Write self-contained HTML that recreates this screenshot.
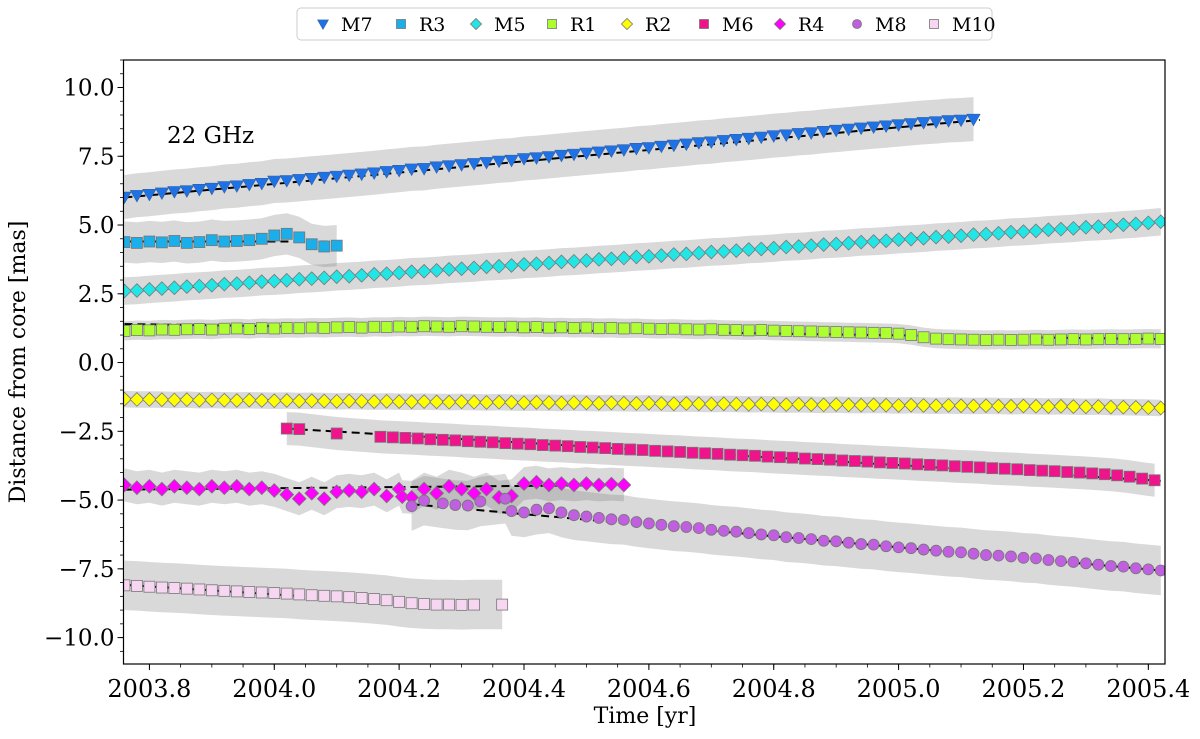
<!DOCTYPE html>
<html><head><meta charset="utf-8"><style>
html,body{margin:0;padding:0;background:#fff;}
svg text{font-family:"DejaVu Serif","Liberation Serif",serif;fill:#000;}
</style></head><body>
<svg id="chart" width="1200" height="734" viewBox="0 0 1200 734" xmlns="http://www.w3.org/2000/svg">
<defs><clipPath id="plotclip"><rect x="123.5" y="60" width="1041.5" height="604"/></clipPath></defs>
<g clip-path="url(#plotclip)">
<g id="bands"></g>
<g id="fits"></g>
<g id="marks"></g>
</g>
<g id="axes"></g>
<text x="167" y="143" font-size="23">22 GHz</text>
<text x="645" y="723" font-size="22" text-anchor="middle">Time [yr]</text>
<text x="0" y="0" font-size="22" text-anchor="middle" transform="translate(25,362) rotate(-90)">Distance from core [mas]</text>
<g id="legend"></g>
</svg>
<script>
// ---- data ----
const seriesNames = ["M7","R3","M5","R1","R2","M6","R4","M8","M10"];
const seriesColors = ["#1f72e6","#1aaeea","#22e6e6","#adff2f","#ffff00","#f0148c","#ff00ff","#c060e0","#f7d6f2"];
const seriesShapes = ["tri","square","diamond","square","diamond","square","diamond","circle","square"];
const seriesStart = [2003.76,2003.76,2003.76,2003.76,2003.76,2004.17,2003.76,2004.38,2003.76];
const seriesStep = [0.02,0.02,0.02,0.02,0.02,0.02,0.02,0.02,0.02];
const bandHalfWidth = [0.8,0.75,0.5,0.35,0.3,0.6,0.6,0.9,0.9];
const yM7 = [6.02,6.08,6.12,6.17,6.22,6.25,6.30,6.34,6.40,6.43,6.48,6.52,6.60,6.62,6.66,6.70,6.74,6.78,6.82,6.86,6.90,6.95,6.99,7.04,7.06,7.12,7.16,7.20,7.24,7.28,7.33,7.36,7.42,7.45,7.49,7.54,7.58,7.62,7.66,7.70,7.74,7.79,7.82,7.87,7.91,7.95,8.00,8.03,8.08,8.12,8.16,8.20,8.25,8.28,8.33,8.36,8.41,8.45,8.49,8.53,8.57,8.61,8.65,8.69,8.73,8.76,8.80,8.82,8.85];
const yR3 = [4.38,4.35,4.40,4.37,4.42,4.35,4.38,4.45,4.40,4.42,4.45,4.50,4.62,4.68,4.55,4.30,4.22,4.25];
const yM5 = [2.60,2.62,2.66,2.69,2.72,2.76,2.78,2.81,2.85,2.87,2.90,2.94,2.96,2.99,3.03,3.05,3.08,3.12,3.14,3.17,3.21,3.23,3.26,3.30,3.32,3.35,3.39,3.41,3.44,3.48,3.50,3.53,3.57,3.59,3.62,3.66,3.68,3.71,3.75,3.77,3.80,3.84,3.86,3.89,3.93,3.95,3.98,4.02,4.04,4.07,4.11,4.13,4.16,4.20,4.22,4.25,4.29,4.31,4.34,4.38,4.40,4.43,4.47,4.49,4.52,4.56,4.58,4.61,4.65,4.67,4.70,4.74,4.76,4.79,4.83,4.85,4.88,4.92,4.94,4.97,5.01,5.04,5.08,5.12];
const yR1 = [1.15,1.18,1.17,1.20,1.19,1.21,1.22,1.20,1.23,1.24,1.22,1.25,1.24,1.26,1.25,1.27,1.26,1.28,1.29,1.27,1.30,1.29,1.31,1.30,1.32,1.31,1.30,1.32,1.31,1.30,1.29,1.30,1.28,1.29,1.27,1.28,1.26,1.27,1.25,1.26,1.24,1.25,1.23,1.22,1.23,1.21,1.20,1.21,1.19,1.18,1.17,1.18,1.16,1.15,1.14,1.13,1.12,1.11,1.10,1.09,1.08,1.07,1.05,1.00,0.92,0.87,0.85,0.84,0.83,0.82,0.83,0.82,0.83,0.84,0.83,0.84,0.85,0.84,0.85,0.86,0.85,0.86,0.87,0.86];
const yR2 = [-1.33,-1.34,-1.34,-1.35,-1.36,-1.35,-1.37,-1.36,-1.37,-1.38,-1.37,-1.38,-1.39,-1.38,-1.40,-1.39,-1.40,-1.41,-1.40,-1.41,-1.42,-1.41,-1.42,-1.43,-1.42,-1.43,-1.44,-1.43,-1.44,-1.45,-1.44,-1.45,-1.46,-1.45,-1.46,-1.47,-1.46,-1.47,-1.48,-1.47,-1.48,-1.49,-1.48,-1.49,-1.50,-1.49,-1.50,-1.51,-1.50,-1.51,-1.52,-1.51,-1.52,-1.53,-1.52,-1.53,-1.54,-1.53,-1.54,-1.55,-1.54,-1.55,-1.56,-1.55,-1.56,-1.57,-1.56,-1.57,-1.58,-1.57,-1.58,-1.59,-1.58,-1.59,-1.60,-1.59,-1.60,-1.61,-1.60,-1.62,-1.62,-1.63,-1.64,-1.65];
const yM6 = [-2.70,-2.72,-2.74,-2.76,-2.79,-2.81,-2.83,-2.86,-2.88,-2.90,-2.93,-2.95,-2.97,-3.00,-3.02,-3.04,-3.07,-3.09,-3.11,-3.14,-3.16,-3.18,-3.21,-3.23,-3.25,-3.28,-3.30,-3.32,-3.35,-3.37,-3.39,-3.42,-3.44,-3.46,-3.49,-3.51,-3.53,-3.56,-3.58,-3.60,-3.63,-3.65,-3.67,-3.70,-3.72,-3.74,-3.77,-3.79,-3.81,-3.84,-3.86,-3.88,-3.91,-3.93,-3.95,-3.98,-4.00,-4.03,-4.06,-4.10,-4.15,-4.22,-4.28];
const yR4 = [-4.45,-4.55,-4.50,-4.60,-4.50,-4.55,-4.60,-4.50,-4.55,-4.50,-4.60,-4.55,-4.65,-4.80,-4.95,-4.75,-4.95,-4.70,-4.65,-4.70,-4.60,-4.85,-4.60,-4.90,-4.60,-4.75,-4.50,-4.60,-4.75,-4.60,-4.90,-4.85,-4.40,-4.35,-4.45,-4.40,-4.45,-4.40,-4.45,-4.42,-4.45];
const yM8 = [-5.40,-5.45,-5.35,-5.30,-5.45,-5.55,-5.60,-5.65,-5.70,-5.72,-5.80,-5.85,-5.90,-5.95,-5.98,-6.02,-6.08,-6.12,-6.15,-6.20,-6.25,-6.28,-6.35,-6.38,-6.42,-6.48,-6.50,-6.55,-6.60,-6.62,-6.68,-6.72,-6.75,-6.80,-6.84,-6.88,-6.90,-6.95,-7.00,-7.02,-7.05,-7.10,-7.12,-7.18,-7.22,-7.25,-7.30,-7.35,-7.40,-7.42,-7.48,-7.52,-7.56];
const yM10 = [-8.10,-8.12,-8.15,-8.18,-8.20,-8.22,-8.25,-8.28,-8.30,-8.32,-8.34,-8.36,-8.38,-8.40,-8.43,-8.46,-8.48,-8.50,-8.53,-8.56,-8.60,-8.64,-8.70,-8.75,-8.78,-8.80,-8.80,-8.81,-8.80];
const seriesY = [yM7,yR3,yM5,yR1,yR2,yM6,yR4,yM8,yM10];
// extra irregularly timed points
const extraT = [[],[],[],[],[],[2004.02,2004.04,2004.10],[2004.205],[2004.22,2004.24,2004.27,2004.29,2004.31,2004.33,2004.37],[2004.365]];
const extraY = [[],[],[],[],[],[-2.40,-2.42,-2.58],[-4.88],[-5.22,-5.02,-5.12,-5.18,-5.20,-5.05,-4.95],[-8.80]];
// linear fits
const fitT0 = [2003.76,2003.76,2003.76,2003.76,2003.76,2004.02,2003.76,2004.22,2003.76];
const fitT1 = [2005.13,2004.10,2005.42,2005.42,2005.42,2005.42,2004.56,2005.42,2004.20];
const fitY0 = [6.00,4.40,2.58,1.40,-1.33,-2.40,-4.62,-5.15,-8.08];
const fitY1 = [8.82,4.40,5.12,0.85,-1.63,-4.30,-4.45,-7.56,-8.72];
const xTicks = [2003.8,2004.0,2004.2,2004.4,2004.6,2004.8,2005.0,2005.2,2005.4];
const xTickLabels = ["2003.8","2004.0","2004.2","2004.4","2004.6","2004.8","2005.0","2005.2","2005.4"];
const yTicks = [-10,-7.5,-5,-2.5,0,2.5,5,7.5,10];
const yTickLabels = ["\u221210.0","\u22127.5","\u22125.0","\u22122.5","0.0","2.5","5.0","7.5","10.0"];

// ---- axes ----
const L=123.5,R=1165,T=60,B=664;
const XMIN=2003.7585, XMAX=2005.4267, YMIN=-10.96, YMAX=11.0;
const xs=v=>L+(v-XMIN)/(XMAX-XMIN)*(R-L);
const ys=v=>B-(v-YMIN)/(YMAX-YMIN)*(B-T);
const NS="http://www.w3.org/2000/svg";
function mk(tag,attrs,parent){const e=document.createElementNS(NS,tag);for(const k in attrs)e.setAttribute(k,attrs[k]);parent.appendChild(e);return e;}

const bandsG=document.getElementById('bands'),fitsG=document.getElementById('fits'),marksG=document.getElementById('marks'),axesG=document.getElementById('axes'),legG=document.getElementById('legend');

function marker(shape,cx,cy,s,color,parent){
  let e;
  if(shape==='tri'){e=mk('path',{d:`M${cx-s*0.6},${cy-s*0.45}L${cx+s*0.6},${cy-s*0.45}L${cx},${cy+s*0.6}Z`,fill:color,stroke:'#3060a0','stroke-width':0.6},parent);}
  else if(shape==='square'){e=mk('rect',{x:cx-s/2,y:cy-s/2,width:s,height:s,fill:color,stroke:'#777','stroke-width':0.8},parent);}
  else if(shape==='diamond'){const h=s*0.62;e=mk('path',{d:`M${cx},${cy-h}L${cx+h},${cy}L${cx},${cy+h}L${cx-h},${cy}Z`,fill:color,stroke:'#777','stroke-width':0.8},parent);}
  else {e=mk('circle',{cx:cx,cy:cy,r:s/2,fill:color,stroke:'#777','stroke-width':0.8},parent);}
  return e;
}

seriesNames.forEach((name,i)=>{
  const pts=[];
  seriesY[i].forEach((v,j)=>pts.push([seriesStart[i]+j*seriesStep[i],v]));
  extraT[i].forEach((t,j)=>pts.push([t,extraY[i][j]]));
  pts.sort((a,b)=>a[0]-b[0]);
  const w=bandHalfWidth[i];
  const up=pts.map(p=>xs(p[0]).toFixed(1)+','+ys(p[1]+w).toFixed(1));
  const dn=pts.slice().reverse().map(p=>xs(p[0]).toFixed(1)+','+ys(p[1]-w).toFixed(1));
  const band=mk('polygon',{points:up.concat(dn).join(' '),fill:'rgba(128,128,128,0.3)'},bandsG);
  
  
  const fit=mk('line',{x1:xs(fitT0[i]),y1:ys(fitY0[i]),x2:xs(fitT1[i]),y2:ys(fitY1[i]),stroke:'#000','stroke-width':2,'stroke-dasharray':'8,5'},fitsG);
  
  
  const g=mk('g',{},marksG);
  
  
  pts.forEach(p=>{
    const m=marker(seriesShapes[i],xs(p[0]),ys(p[1]),11,seriesColors[i],g);
    
    
  });
});

// frame
const frame=mk('rect',{x:L,y:T,width:R-L,height:B-T,fill:'none',stroke:'#000','stroke-width':1.2},axesG);


xTicks.forEach((v,i)=>{
  mk('line',{x1:xs(v),y1:B,x2:xs(v),y2:B+6,stroke:'#000','stroke-width':1},axesG);
  const t=mk('text',{x:xs(v),y:B+33,'font-size':24,'text-anchor':'middle'},axesG);
  t.textContent=xTickLabels[i];
  
  
});
for(let v=2003.75;v<=2005.43;v+=0.05){const x=xs(v);if(x>=L&&x<=R)mk('line',{x1:x,y1:B,x2:x,y2:B+3.5,stroke:'#000','stroke-width':0.8},axesG);}
yTicks.forEach((v,i)=>{
  mk('line',{x1:L-6,y1:ys(v),x2:L,y2:ys(v),stroke:'#000','stroke-width':1},axesG);
  const t=mk('text',{x:L-9,y:ys(v)+8,'font-size':23,'text-anchor':'end'},axesG);
  t.textContent=yTickLabels[i];
  
  
});
for(let v=-10.5;v<=11;v+=0.5){const y=ys(v);if(y>=T&&y<=B)mk('line',{x1:L-3.5,y1:y,x2:L,y2:y,stroke:'#000','stroke-width':0.8},axesG);}

// legend
const lb=mk('rect',{x:297,y:8,width:695,height:32,rx:4,fill:'#fff',stroke:'#ccc','stroke-width':1},legG);


const legX=[323,401,476,552,627,704,780,857,934];
seriesNames.forEach((name,i)=>{
  const g=mk('g',{},legG);
  
  
  marker(seriesShapes[i],legX[i],24,9,seriesColors[i],g);
  const t=mk('text',{x:legX[i]+18,y:31,'font-size':19},g);
  t.textContent=name;
});
</script>
</body></html>
